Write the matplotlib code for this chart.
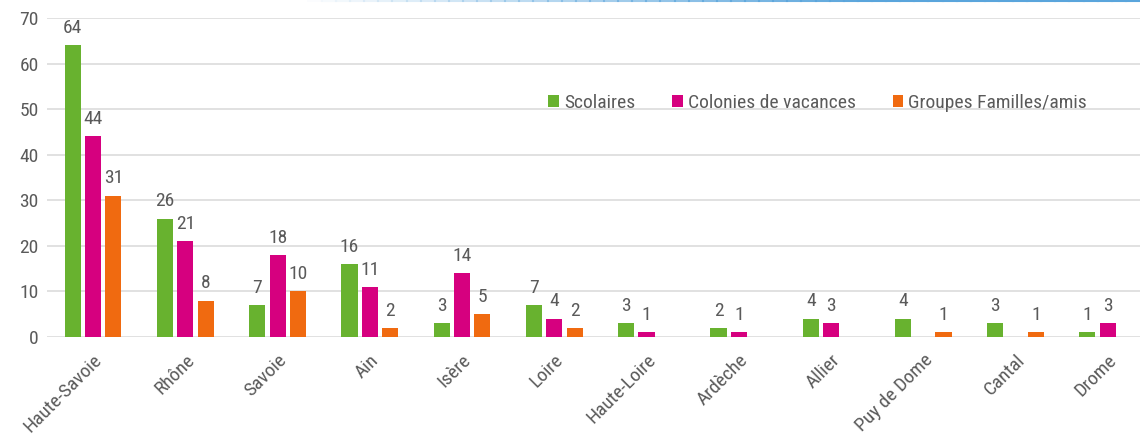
import matplotlib
matplotlib.use("Agg")
import matplotlib.pyplot as plt
import numpy as np
from matplotlib import font_manager

# Données
departements = ['Haute-Savoie', 'Rhône', 'Savoie', 'Ain', 'Isère', 'Loire',
                'Haute-Loire', 'Ardèche', 'Allier', 'Puy de Dome', 'Cantal', 'Drome']
scolaires = [64, 26, 7, 16, 3, 7, 3, 2, 4, 4, 3, 1]
colonies = [44, 21, 18, 11, 14, 4, 1, 1, 3, 0, 0, 3]
groupes = [31, 8, 10, 2, 5, 2, 0, 0, 0, 1, 1, 0]
series_noms = ['Scolaires', 'Colonies de vacances', 'Groupes Familles/amis']
couleurs = ['#68b22f', '#d6007f', '#f06a10']

# Police étroite si disponible
noms_installes = {f.name for f in font_manager.fontManager.ttflist}
police = 'Roboto'
for cand in ['Roboto Condensed', 'Liberation Sans Narrow', 'Open Sans Condensed', 'DejaVu Sans Condensed']:
    if cand in noms_installes:
        police = cand
        break
plt.rcParams['font.family'] = [police, 'DejaVu Sans']
plt.rcParams['font.stretch'] = 'condensed'

gris_texte = '#5a5a5a'
taille = 14

fig = plt.figure(figsize=(11.4, 4.41), dpi=100)
ax = fig.add_axes([47 / 1140, 104 / 441, 1 - 47 / 1140, (337 - 18) / 441])

x = np.arange(len(departements))
largeur = 0.175
pas = 0.22
for i, (vals, nom, c) in enumerate(zip([scolaires, colonies, groupes], series_noms, couleurs)):
    pos = x + (i - 1) * pas
    barres = ax.bar(pos, vals, width=largeur, color=c, label=nom, zorder=3)
    etiquettes = [str(v) if v > 0 else '' for v in vals]
    ax.bar_label(barres, labels=etiquettes, padding=6, color=gris_texte, fontsize=taille)

ax.set_ylim(0, 70)
ax.set_xlim(-0.5, 11.35)
ax.set_yticks(range(0, 71, 10))
ax.yaxis.grid(True, color='#dcdcdc', linewidth=1.2, zorder=0)
ax.set_axisbelow(True)
for s in ax.spines.values():
    s.set_visible(False)
ax.tick_params(axis='both', length=0, colors=gris_texte, labelsize=taille)
ax.tick_params(axis='y', pad=6)
ax.set_xticks(x)
ax.set_xticklabels(departements, rotation=45, ha='right', rotation_mode='anchor', fontsize=taille)
ax.tick_params(axis='x', pad=10)

leg = ax.legend(loc='center', bbox_to_anchor=(0.705, 0.735), ncol=3, frameon=False,
                fontsize=taille, handlelength=0.55, handleheight=0.55, handletextpad=0.25,
                columnspacing=1.9, labelcolor=gris_texte)

# Liseré bleu en haut
xs = np.linspace(0.27, 1.0, 60)
for k in range(len(xs) - 1):
    a = min(1.0, (k + 1) / 40)
    fig.add_artist(plt.Line2D([xs[k], xs[k + 1]], [0.998, 0.998], color='#5aa5dc',
                              alpha=a, linewidth=1.5, transform=fig.transFigure))

fig.savefig('out.png', dpi=100)
